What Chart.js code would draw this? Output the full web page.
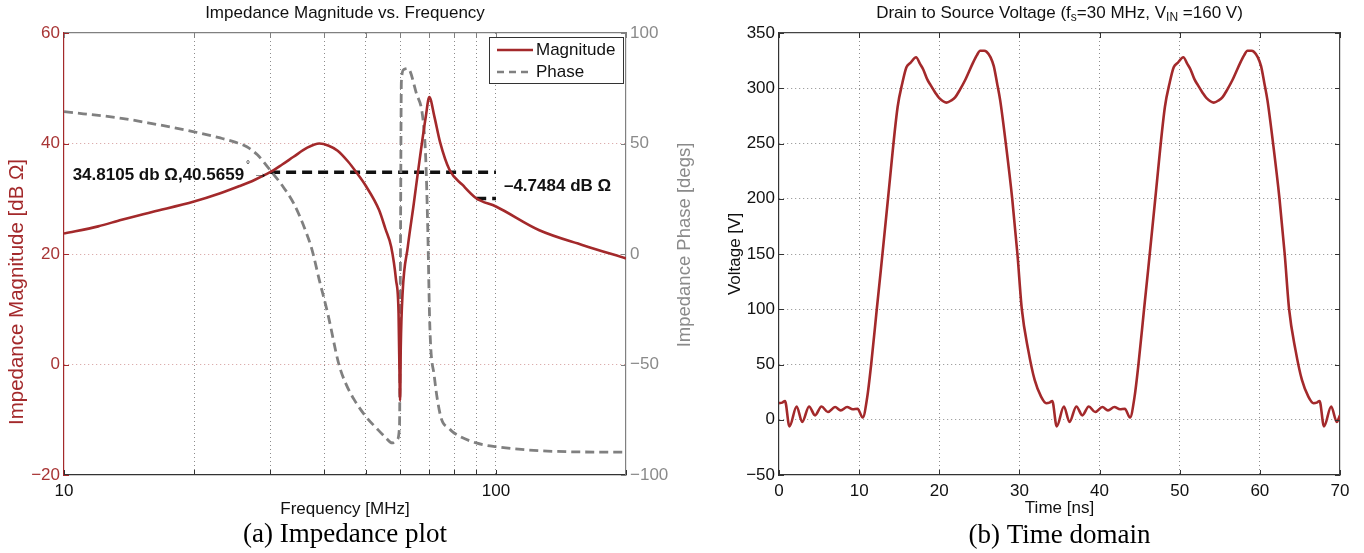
<!DOCTYPE html>
<html>
<head>
<meta charset="utf-8">
<script src="https://cdn.jsdelivr.net/npm/chart.js@4.4.1/dist/chart.umd.min.js"></script>
<style>
  html, body { margin: 0; padding: 0; background: #fff; }
  #wrap { position: relative; width: 1364px; height: 553px; overflow: hidden; }
  #impedance { position: absolute; left: 0; top: 0; }
  #timedomain { position: absolute; left: 700px; top: 0; }
</style>
</head>
<body>
<div id="wrap">
  <canvas id="impedance" width="700" height="553"></canvas>
  <canvas id="timedomain" width="664" height="553"></canvas>
</div>
<script>
// impedance plot (a)
const magFreq = [10, 12, 13.6, 16, 20, 23, 25.5, 27.6, 30, 32, 34, 36.5, 39, 41, 43, 45.5, 47.5, 50, 53.6, 55.5, 57.2, 58.7, 59.5, 59.9, 60.0, 60.2, 60.8, 62.5, 64.5, 66, 68.8, 70.1, 72, 74.2, 78.1, 83.7, 90, 100, 126, 159, 200];
const magDb   = [23.7, 25.0, 26.2, 27.6, 29.5, 31.0, 32.3, 33.4, 34.8, 36.2, 37.6, 39.2, 40.0, 39.6, 38.7, 36.7, 34.8, 32.3, 28.0, 24.5, 21.3, 15.3, 9.3, -5.2, -6.5, 3.0, 13.0, 21.3, 29.0, 34.9, 44.9, 48.4, 44.9, 40.3, 35.2, 32.5, 30.1, 28.6, 24.3, 21.6, 19.2];

const phaseFreq = [10, 13.6, 16, 20, 23, 25, 26.5, 28, 30, 32, 34, 36, 37.5, 39, 40.8, 43.3, 45, 47, 50, 53, 55.5, 57.5, 59, 59.8, 60.1, 60.4, 61.2, 62.5, 65.4, 67.8, 68.8, 69.5, 70.3, 72, 74.5, 78, 80, 90, 100, 126, 150, 200];
const phaseDeg  = [64.4, 61.4, 59.0, 55.3, 52.5, 50.5, 48.5, 45.0, 38.0, 31.0, 23.0, 12.0, 2.0, -11.8, -27.0, -50.0, -59.0, -66.0, -73.6, -79.0, -83.0, -85.5, -84.0, -78.0, 0.0, 78.0, 83.5, 84.0, 72.8, 60.6, 42.5, 12.4, -33.0, -55.5, -73.6, -79.0, -81.0, -85.5, -87.2, -89.0, -89.5, -89.7];

const markerFreq = [30, 100];
const markerDb = 34.8105;
const markerPhase = 40.5659;
const deltaFreq = [90, 100];
const deltaDb = -4.7484;

const freqTicks = [10, 20, 30, 40, 50, 60, 70, 80, 90, 100, 200];
const freqLabels = [10, 100];

// time domain (b)
const timeNs = [0, 0.4, 0.75, 1.3, 2.2, 2.9, 3.75, 4.5, 5.3, 6.1, 7.0, 7.7, 8.5, 9.2, 9.8, 10.45, 11.0, 11.5, 12.2, 12.7, 13.6, 14.8, 15.4, 15.9, 16.4, 17.1, 17.6, 18.0, 18.5, 18.9, 19.5, 20.0, 20.9, 21.5, 22.0, 22.6, 23.2, 23.7, 24.2, 24.7, 25.1, 25.6, 25.9, 26.4, 26.8, 27.2, 27.6, 28.3, 29.1, 29.75, 30.3, 31.1, 31.9, 32.7,
  33.35, 33.75, 34.1, 34.65, 35.55, 36.25, 37.1, 37.85, 38.65, 39.45, 40.35, 41.05, 41.85, 42.55, 43.15, 43.8, 44.35, 44.85, 45.55, 46.05, 46.95, 48.15, 48.75, 49.25, 49.75, 50.45, 50.95, 51.35, 51.85, 52.25, 52.85, 53.35, 54.25, 54.85, 55.35, 55.95, 56.55, 57.05, 57.55, 58.05, 58.45, 58.95, 59.25, 59.75, 60.15, 60.55, 60.95, 61.65, 62.45, 63.1, 63.65, 64.45, 65.25, 66.05,
  66.7, 67.1, 67.45, 68.0, 68.9, 69.6, 70.0];
const drainVoltage = [15, 15.5, 17, -6, 12, -2, 12, 4, 12, 7, 11.5, 8.5, 11.5, 9.5, 10, 2, 20, 50, 100, 135, 200, 283, 305, 319, 323, 328, 322, 317, 308, 303, 296, 291, 287, 289, 292, 299, 307, 315, 323, 330, 334, 334, 333, 328, 320, 305, 289, 250, 200, 150, 100, 63, 36, 21,
  15, 15.5, 17, -6, 12, -2, 12, 4, 12, 7, 11.5, 8.5, 11.5, 9.5, 10, 2, 20, 50, 100, 135, 200, 283, 305, 319, 323, 328, 322, 317, 308, 303, 296, 291, 287, 289, 292, 299, 307, 315, 323, 330, 334, 334, 333, 328, 320, 305, 289, 250, 200, 150, 100, 63, 36, 21,
  15, 15.5, 17, -6, 12, -2, 4];

const FONT = '"Liberation Sans", Arial, Helvetica, sans-serif';
const SERIF = '"Liberation Serif", "Times New Roman", serif';
const RED = '#a3292b';
const RED_TICK = '#a83535';
const GRAY = '#808080';
const GRAY_TICK = '#8a8a8a';
const GRID = '#8c8c8c';
const PINK_GRID = '#d49a9a';

Chart.defaults.font.family = FONT;
Chart.defaults.font.size = 17;
Chart.defaults.color = '#111';

function pairs(xs, ys) {
    return xs.map((x, i) => ({ x: x, y: ys[i] }));
}

function drawRotated(ctx, text, x, y, font, color) {
    ctx.save();
    ctx.translate(x, y);
    ctx.rotate(-Math.PI / 2);
    ctx.font = font;
    ctx.fillStyle = color;
    ctx.textAlign = 'center';
    ctx.textBaseline = 'middle';
    ctx.fillText(text, 0, 0);
    ctx.restore();
}

function drawCentered(ctx, text, x, y, font, color) {
    ctx.save();
    ctx.font = font;
    ctx.fillStyle = color;
    ctx.textAlign = 'center';
    ctx.textBaseline = 'middle';
    ctx.fillText(text, x, y);
    ctx.restore();
}

// matlab style short ticks pointing into the plot
function innerTicks(chart, scale, sides, color) {
    const ctx = chart.ctx;
    const ca = chart.chartArea;
    ctx.save();
    ctx.strokeStyle = color;
    ctx.lineWidth = 1;
    ctx.beginPath();
    for (const t of scale.ticks) {
        const p = Math.round(scale.getPixelForValue(t.value)) + 0.5;
        for (const side of sides) {
            if (side === 'bottom') { ctx.moveTo(p, ca.bottom); ctx.lineTo(p, ca.bottom - 5); }
            if (side === 'top') { ctx.moveTo(p, ca.top); ctx.lineTo(p, ca.top + 5); }
            if (side === 'left') { ctx.moveTo(ca.left, p); ctx.lineTo(ca.left + 5, p); }
            if (side === 'right') { ctx.moveTo(ca.right, p); ctx.lineTo(ca.right - 5, p); }
        }
    }
    ctx.stroke();
    ctx.restore();
}

const impedanceText = {
    id: 'impedanceText',
    afterDraw(chart) {
        const ctx = chart.ctx;
        const ca = chart.chartArea;
        const xs = chart.scales.x;
        const ys = chart.scales.yMag;
        const midX = (ca.left + ca.right) / 2;

        innerTicks(chart, xs, ['bottom'], '#333');
        innerTicks(chart, xs, ['top'], GRAY);
        innerTicks(chart, ys, ['left'], RED);
        innerTicks(chart, chart.scales.yPhase, ['right'], GRAY);

        drawCentered(ctx, 'Impedance Magnitude vs. Frequency', midX, 13, '17px ' + FONT, '#111');
        drawCentered(ctx, '(a) Impedance plot', midX, 535, '27px ' + SERIF, '#000');
        drawRotated(ctx, 'Impedance Magnitude [dB \u03A9]', 17, 292, '20.5px ' + FONT, RED);
        drawRotated(ctx, 'Impedance Phase [degs]', 685, 245, '18.5px ' + FONT, GRAY_TICK);

        // marker readout
        const px = xs.getPixelForValue(markerFreq[0]);
        const py = ys.getPixelForValue(markerDb);
        ctx.save();
        ctx.font = 'bold 17px ' + FONT;
        ctx.fillStyle = '#111';
        ctx.textAlign = 'right';
        ctx.textBaseline = 'middle';
        const readout = markerDb.toFixed(4) + ' db \u03A9,' + markerPhase.toFixed(4);
        ctx.fillText(readout, px - 26, py + 3);
        ctx.font = '10px ' + FONT;
        ctx.textAlign = 'left';
        ctx.fillText('\u00B0', px - 24, py - 7);
        ctx.font = '15px ' + FONT;
        ctx.fillText('\u2192', px - 17, py + 2);
        ctx.font = 'bold 17px ' + FONT;
        const dx = xs.getPixelForValue(deltaFreq[1]);
        const dy = ys.getPixelForValue(markerDb + deltaDb / 2);
        ctx.fillText('\u2013' + Math.abs(deltaDb).toFixed(4) + ' dB \u03A9', dx + 8, dy + 1);
        ctx.restore();

        // legend box
        const lx = ca.right - 137, ly = ca.top + 4, lw = 134, lh = 46;
        ctx.save();
        ctx.fillStyle = '#fff';
        ctx.fillRect(lx, ly, lw, lh);
        ctx.strokeStyle = '#333';
        ctx.lineWidth = 1;
        ctx.strokeRect(lx + 0.5, ly + 0.5, lw, lh);
        ctx.lineWidth = 2.5;
        ctx.strokeStyle = RED;
        ctx.beginPath(); ctx.moveTo(lx + 8, ly + 13); ctx.lineTo(lx + 44, ly + 13); ctx.stroke();
        ctx.strokeStyle = GRAY;
        ctx.setLineDash([7, 5]);
        ctx.beginPath(); ctx.moveTo(lx + 8, ly + 35); ctx.lineTo(lx + 44, ly + 35); ctx.stroke();
        ctx.setLineDash([]);
        ctx.font = '17px ' + FONT;
        ctx.fillStyle = '#111';
        ctx.textBaseline = 'middle';
        ctx.fillText('Magnitude', lx + 47, ly + 13);
        ctx.fillText('Phase', lx + 47, ly + 35);
        ctx.restore();
    }
};

new Chart(document.getElementById('impedance'), {
    type: 'line',
    data: {
        datasets: [
            {
                label: 'Magnitude',
                data: pairs(magFreq, magDb),
                yAxisID: 'yMag',
                borderColor: RED,
                borderWidth: 2.6,
                pointRadius: 0,
                cubicInterpolationMode: 'monotone'
            },
            {
                label: 'Phase',
                data: pairs(phaseFreq, phaseDeg),
                yAxisID: 'yPhase',
                borderColor: GRAY,
                borderWidth: 2.8,
                borderDash: [9, 5],
                pointRadius: 0,
                cubicInterpolationMode: 'monotone'
            },
            {
                label: 'marker',
                data: markerFreq.map(f => ({ x: f, y: markerDb })),
                yAxisID: 'yMag',
                borderColor: '#111',
                borderWidth: 3.5,
                borderDash: [10, 6],
                pointRadius: 0
            },
            {
                label: 'delta',
                data: deltaFreq.map(f => ({ x: f, y: markerDb + deltaDb })),
                yAxisID: 'yMag',
                borderColor: '#111',
                borderWidth: 3.5,
                borderDash: [10, 6],
                pointRadius: 0
            }
        ]
    },
    options: {
        responsive: false,
        animation: false,
        layout: { padding: { top: 33, left: 0, right: 0, bottom: 0 } },
        plugins: { legend: { display: false }, tooltip: { enabled: false } },
        scales: {
            x: {
                type: 'logarithmic',
                position: 'bottom',
                min: 10,
                max: 200,
                afterBuildTicks: s => { s.ticks = freqTicks.map(v => ({ value: v })); },
                afterFit: s => { s.height = 78; },
                ticks: {
                    autoSkip: false,
                    maxRotation: 0,
                    padding: 6,
                    color: '#111',
                    callback: v => freqLabels.includes(v) ? String(v) : ''
                },
                grid: {
                    drawTicks: false,
                    color: c => (c.tick && (c.tick.value === 10 || c.tick.value === 200)) ? 'rgba(0,0,0,0)' : GRID
                },
                border: { color: '#333', width: 1.2, dash: [1, 3] },
                title: { display: true, text: 'Frequency [MHz]', color: '#111', font: { size: 17 }, padding: { top: 0, bottom: 33 } }
            },
            xTop: {
                type: 'linear',
                position: 'top',
                min: 0,
                max: 1,
                afterFit: s => { s.height = 0; },
                ticks: { display: false },
                grid: { display: false, drawTicks: false },
                border: { color: GRAY, width: 1.2 }
            },
            yMag: {
                type: 'linear',
                position: 'left',
                min: -20,
                max: 60,
                afterFit: s => { s.width = 64; },
                ticks: { stepSize: 20, color: RED_TICK, padding: 4,
                    callback: v => v < 0 ? '\u2212' + Math.abs(v) : String(v) },
                grid: {
                    drawTicks: false,
                    color: c => (c.tick && (c.tick.value === 60 || c.tick.value === -20)) ? 'rgba(0,0,0,0)' : PINK_GRID
                },
                border: { color: RED, width: 1.2, dash: [1, 3] }
            },
            yPhase: {
                type: 'linear',
                position: 'right',
                min: -100,
                max: 100,
                afterFit: s => { s.width = 74; },
                ticks: { stepSize: 50, color: GRAY_TICK, padding: 4,
                    callback: v => v < 0 ? '\u2212' + Math.abs(v) : String(v) },
                grid: { display: false, drawTicks: false },
                border: { color: GRAY, width: 1.2 }
            }
        }
    },
    plugins: [impedanceText]
});

const titleParts = [
    { t: 'Drain to Source Voltage (f' },
    { t: 's', sub: true },
    { t: '=30 MHz, V' },
    { t: 'IN', sub: true },
    { t: ' =160 V)' }
];

const timeText = {
    id: 'timeText',
    afterDraw(chart) {
        const ctx = chart.ctx;
        const ca = chart.chartArea;
        const midX = (ca.left + ca.right) / 2;

        innerTicks(chart, chart.scales.x, ['bottom', 'top'], '#333');
        innerTicks(chart, chart.scales.y, ['left', 'right'], '#333');

        ctx.save();
        ctx.fillStyle = '#111';
        ctx.textBaseline = 'middle';
        ctx.textAlign = 'left';
        let total = 0;
        for (const p of titleParts) {
            ctx.font = (p.sub ? '12px ' : '17px ') + FONT;
            total += ctx.measureText(p.t).width;
        }
        let x = midX - total / 2;
        for (const p of titleParts) {
            ctx.font = (p.sub ? '12px ' : '17px ') + FONT;
            ctx.fillText(p.t, x, p.sub ? 18 : 13);
            x += ctx.measureText(p.t).width;
        }
        ctx.restore();
        drawCentered(ctx, '(b) Time domain', midX, 536, '27px ' + SERIF, '#000');
        drawRotated(ctx, 'Voltage [V]', 35, 254, '17px ' + FONT, '#111');
    }
};

new Chart(document.getElementById('timedomain'), {
    type: 'line',
    data: {
        datasets: [{
            label: 'Drain to Source Voltage',
            data: pairs(timeNs, drainVoltage),
            borderColor: RED,
            borderWidth: 2.6,
            pointRadius: 0,
            cubicInterpolationMode: 'monotone'
        }]
    },
    options: {
        responsive: false,
        animation: false,
        layout: { padding: { top: 33, left: 0, right: 0, bottom: 0 } },
        plugins: { legend: { display: false }, tooltip: { enabled: false } },
        scales: {
            x: {
                type: 'linear',
                position: 'bottom',
                min: 0,
                max: 70,
                afterFit: s => { s.height = 78; },
                ticks: { stepSize: 10, maxRotation: 0, padding: 6, color: '#111' },
                grid: {
                    drawTicks: false,
                    color: c => (c.tick && (c.tick.value === 0 || c.tick.value === 70)) ? 'rgba(0,0,0,0)' : GRID
                },
                border: { color: '#333', width: 1.2, dash: [1, 3] },
                title: { display: true, text: 'Time [ns]', color: '#111', font: { size: 17 }, padding: { top: 0, bottom: 34 } }
            },
            xTop: {
                type: 'linear',
                position: 'top',
                min: 0,
                max: 1,
                afterFit: s => { s.height = 0; },
                ticks: { display: false },
                grid: { display: false, drawTicks: false },
                border: { color: '#444', width: 1.2 }
            },
            y: {
                type: 'linear',
                position: 'left',
                min: -50,
                max: 350,
                afterFit: s => { s.width = 79; },
                ticks: { stepSize: 50, color: '#111', padding: 4,
                    callback: v => v < 0 ? '\u2212' + Math.abs(v) : String(v) },
                grid: {
                    drawTicks: false,
                    color: c => (c.tick && (c.tick.value === 350 || c.tick.value === -50)) ? 'rgba(0,0,0,0)' : GRID
                },
                border: { color: '#333', width: 1.2, dash: [1, 3] }
            },
            yRight: {
                type: 'linear',
                position: 'right',
                min: 0,
                max: 1,
                afterFit: s => { s.width = 24; },
                ticks: { display: false },
                grid: { display: false, drawTicks: false },
                border: { color: '#444', width: 1.2 }
            }
        }
    },
    plugins: [timeText]
});
</script>
</body>
</html>
